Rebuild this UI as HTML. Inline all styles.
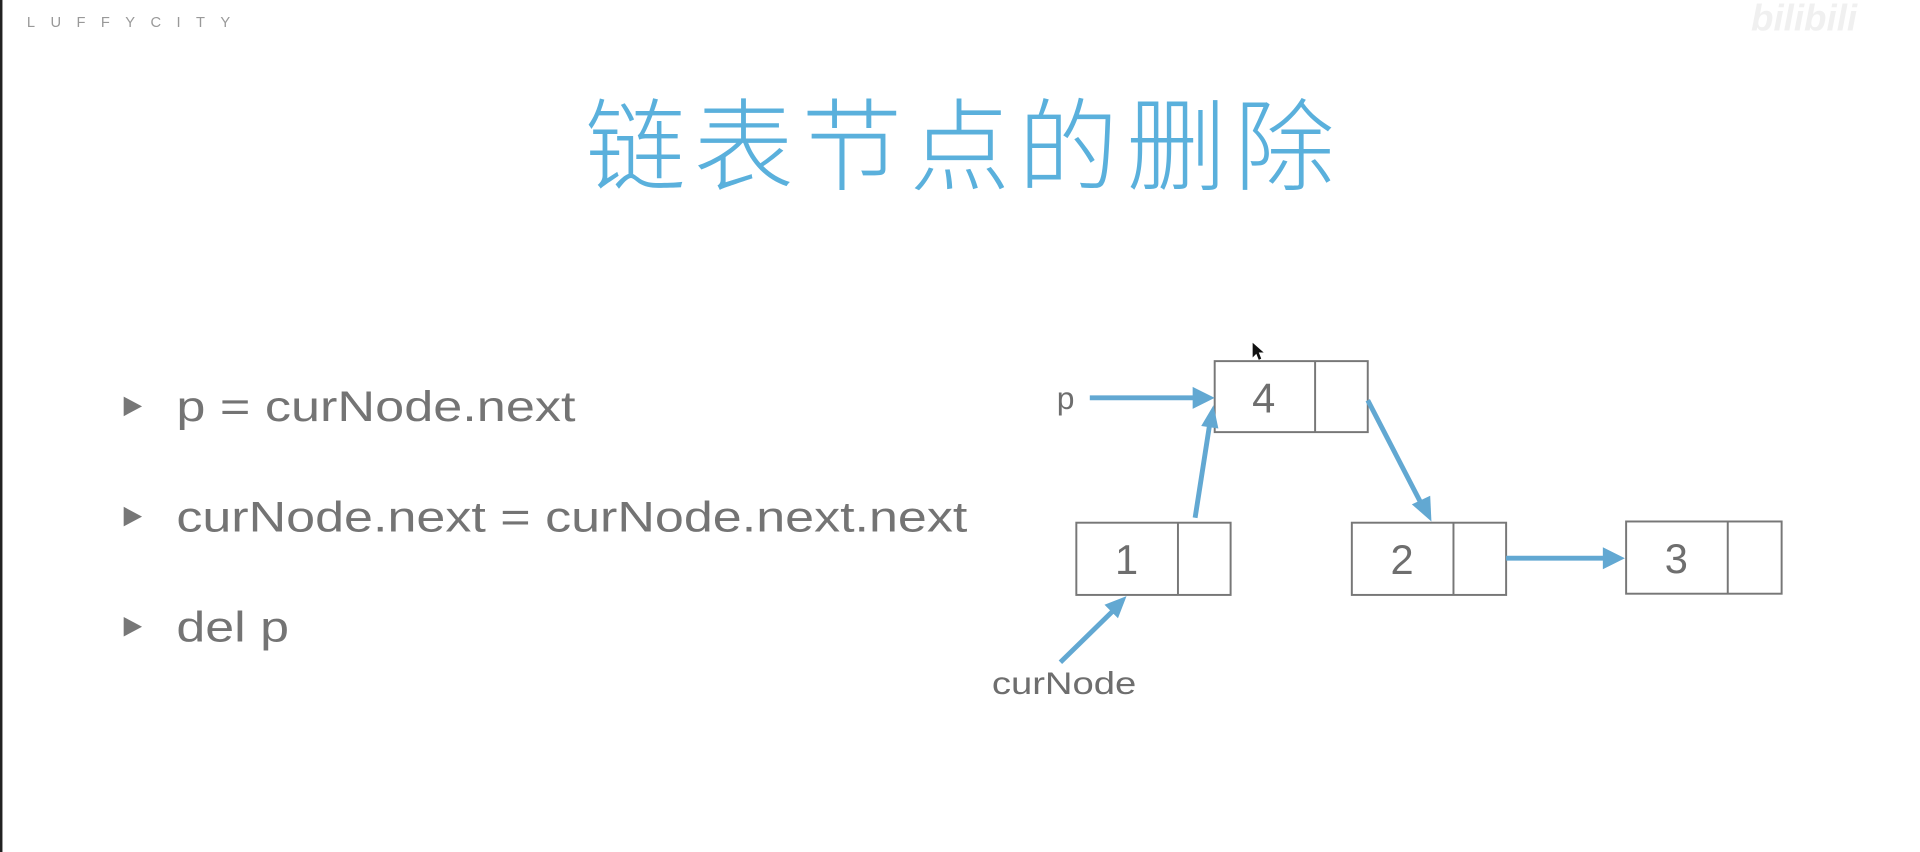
<!DOCTYPE html>
<html><head><meta charset="utf-8"><style>
html,body{margin:0;padding:0;background:#fff;width:1920px;height:852px;overflow:hidden}
svg{display:block}
</style></head><body>
<svg width="1920" height="852" viewBox="0 0 1568 696" preserveAspectRatio="none" xmlns="http://www.w3.org/2000/svg">
<rect x="0" y="0" width="1568" height="696" fill="#fff"/>
<rect x="0" y="0" width="2" height="696" fill="#222"/>
<text x="22" y="22" font-family="Liberation Sans, sans-serif" font-size="12" fill="#999" textLength="166" lengthAdjust="spacing">LUFFYCITY</text>
<text x="1430" y="25" font-family="Liberation Sans, sans-serif" font-size="30" font-weight="bold" font-style="italic" fill="#f0f0f0">bilibili</text>
<text x="478" y="149" font-family="Liberation Sans, 'Noto Sans CJK SC', sans-serif" font-weight="200" font-size="82" fill="#5ab0dc" textLength="612" lengthAdjust="spacing">链表节点的删除</text>
<g fill="#777">
<polygon points="101,324 116,332 101,340"/>
<polygon points="101,414 116,422 101,430"/>
<polygon points="101,504 116,512 101,520"/>
</g>
<g font-family="Liberation Sans, sans-serif" font-size="35" fill="#747474">
<text x="144" y="344" textLength="326" lengthAdjust="spacingAndGlyphs">p = curNode.next</text>
<text x="144" y="434" textLength="646" lengthAdjust="spacingAndGlyphs">curNode.next = curNode.next.next</text>
<text x="144" y="524" textLength="92" lengthAdjust="spacingAndGlyphs">del p</text>
</g>
<g fill="#fff" stroke="#777" stroke-width="1.6">
<rect x="992" y="295" width="125" height="58"/><line x1="1074" y1="295" x2="1074" y2="353"/>
<rect x="879" y="427" width="126" height="59"/><line x1="962" y1="427" x2="962" y2="486"/>
<rect x="1104" y="427" width="126" height="59"/><line x1="1187" y1="427" x2="1187" y2="486"/>
<rect x="1328" y="426" width="127" height="59"/><line x1="1411" y1="426" x2="1411" y2="485"/>
</g>
<g font-family="Liberation Sans, sans-serif" font-size="34" fill="#6e6e6e" text-anchor="middle">
<text x="1032" y="337">4</text>
<text x="920" y="469">1</text>
<text x="1145" y="469">2</text>
<text x="1369" y="468">3</text>
</g>
<g font-family="Liberation Sans, sans-serif" font-size="26" fill="#6e6e6e">
<text x="863" y="334">p</text>
<text x="810" y="567" textLength="118" lengthAdjust="spacingAndGlyphs">curNode</text>
</g>
<g stroke="#62a8d2" stroke-width="4" fill="#62a8d2">
<line x1="890" y1="325" x2="978" y2="325"/>
<polygon points="992,325 974,316 974,334" stroke="none"/>
<line x1="976" y1="423" x2="988" y2="346"/>
<polygon points="991,331 981,348 995,350" stroke="none"/>
<line x1="1117" y1="327" x2="1161" y2="412"/>
<polygon points="1169,426 1153,412 1168,405" stroke="none"/>
<line x1="1230" y1="456" x2="1312" y2="456"/>
<polygon points="1327,456 1309,447 1309,465" stroke="none"/>
<line x1="866" y1="541" x2="910" y2="498"/>
<polygon points="920,487 902,494 913,505" stroke="none"/>
</g>
<polygon points="1023,280 1023,292 1026,289 1028,294 1030,293 1028,288 1032,288" fill="#111"/>
</svg>
</body></html>
